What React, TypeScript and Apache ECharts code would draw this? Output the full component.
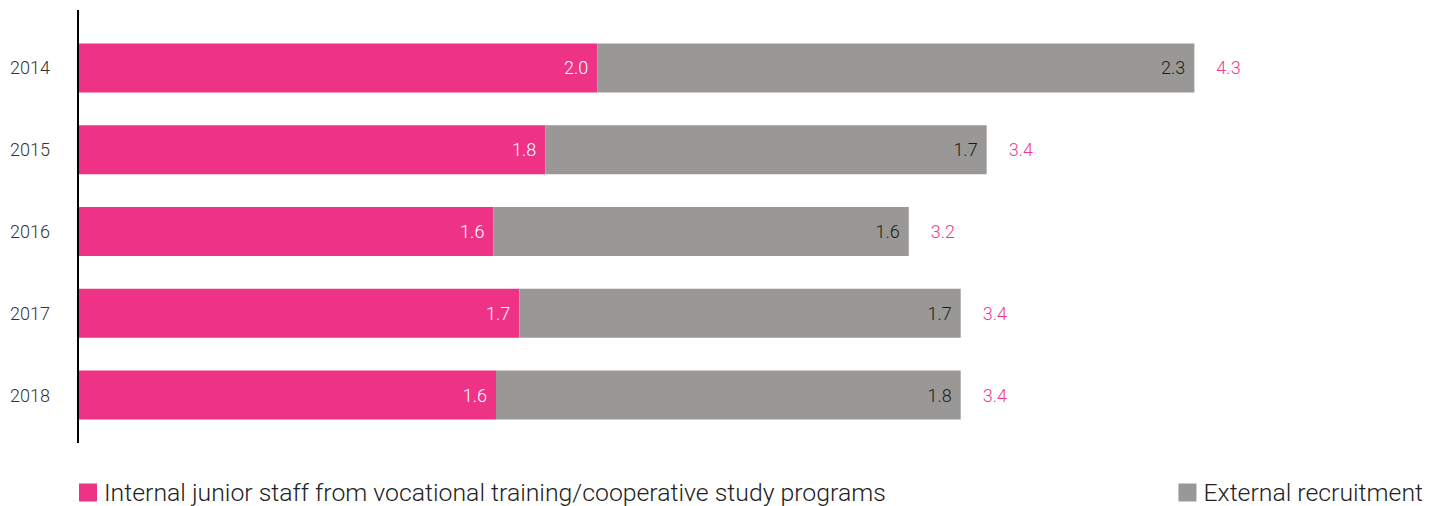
import React, { useEffect, useRef } from "react";
import * as echarts from "echarts";

const years = ["2014", "2015", "2016", "2017", "2018"];
const internalValues = [2.0, 1.8, 1.6, 1.7, 1.61];
const externalValues = [2.3, 1.7, 1.6, 1.7, 1.79];
const internalLabels = ["2.0", "1.8", "1.6", "1.7", "1.6"];
const externalLabels = ["2.3", "1.7", "1.6", "1.7", "1.8"];
const totalLabels = ["4.3", "3.4", "3.2", "3.4", "3.4"];
const totalPlaceholder = [0, 0, 0, 0, 0];

const INTERNAL = "Internal junior staff from vocational training/cooperative study programs";
const EXTERNAL = "External recruitment";
const PINK = "#EE3286";
const GRAY = "#999896";
const FONT = "Roboto, 'Liberation Sans', sans-serif";

export default function App() {
  const ref = useRef<HTMLDivElement>(null);
  useEffect(() => {
    if (!ref.current) return;
    const chart = echarts.init(ref.current, undefined, { renderer: "svg" });
    chart.setOption({
      animation: false,
      textStyle: { fontFamily: FONT },
      grid: { left: 78, right: 0, top: 27, bottom: 70, containLabel: false },
      xAxis: {
        type: "value",
        min: 0,
        max: 5.25,
        show: false,
      },
      yAxis: {
        type: "category",
        data: years,
        inverse: true,
        axisLine: { show: false },
        axisTick: { show: false },
        axisLabel: { color: "#333", fontSize: 18, margin: 28, fontFamily: FONT, fontWeight: 300 },
      },
      legend: [
        {
          data: [INTERNAL],
          left: 79,
          top: 480,
          padding: 0,
          icon: "rect",
          itemWidth: 18,
          itemHeight: 18,
          textStyle: { fontSize: 24.8, color: "#222", fontFamily: FONT, fontWeight: 300, padding: [0, 0, 0, 2] },
        },
        {
          data: [EXTERNAL],
          right: 18,
          top: 480,
          padding: 0,
          icon: "rect",
          itemWidth: 18,
          itemHeight: 18,
          textStyle: { fontSize: 24.8, color: "#222", fontFamily: FONT, fontWeight: 300, padding: [0, 0, 0, 2] },
        },
      ],
      graphic: [
        {
          type: "line",
          shape: { x1: 78, y1: 10, x2: 78, y2: 443 },
          style: { stroke: "#000", lineWidth: 2 },
          z: 100,
        },
      ],
      series: [
        {
          name: INTERNAL,
          type: "bar",
          stack: "total",
          barWidth: 49,
          data: internalValues,
          itemStyle: { color: PINK },
          label: {
            show: true,
            position: "insideRight",
            distance: 9,
            color: "#fff",
            fontSize: 18,
            fontFamily: FONT,
            fontWeight: 300,
            formatter: (p: any) => internalLabels[p.dataIndex],
          },
        },
        {
          name: EXTERNAL,
          type: "bar",
          stack: "total",
          barWidth: 49,
          data: externalValues,
          itemStyle: { color: GRAY },
          label: {
            show: true,
            position: "insideRight",
            distance: 9,
            color: "#1a1a1a",
            fontSize: 18,
            fontFamily: FONT,
            fontWeight: 300,
            formatter: (p: any) => externalLabels[p.dataIndex],
          },
        },
        {
          name: "total",
          type: "bar",
          stack: "total",
          barWidth: 49,
          data: totalPlaceholder,
          itemStyle: { color: "transparent" },
          label: {
            show: true,
            position: "right",
            distance: 22,
            color: "#EE3A8C",
            fontSize: 18,
            fontFamily: FONT,
            fontWeight: 300,
            formatter: (p: any) => totalLabels[p.dataIndex],
          },
        },
      ],
    });
    return () => chart.dispose();
  }, []);
  return <div ref={ref} style={{ width: 1441, height: 506, position: "absolute", left: 0, top: 0 }} />;
}
